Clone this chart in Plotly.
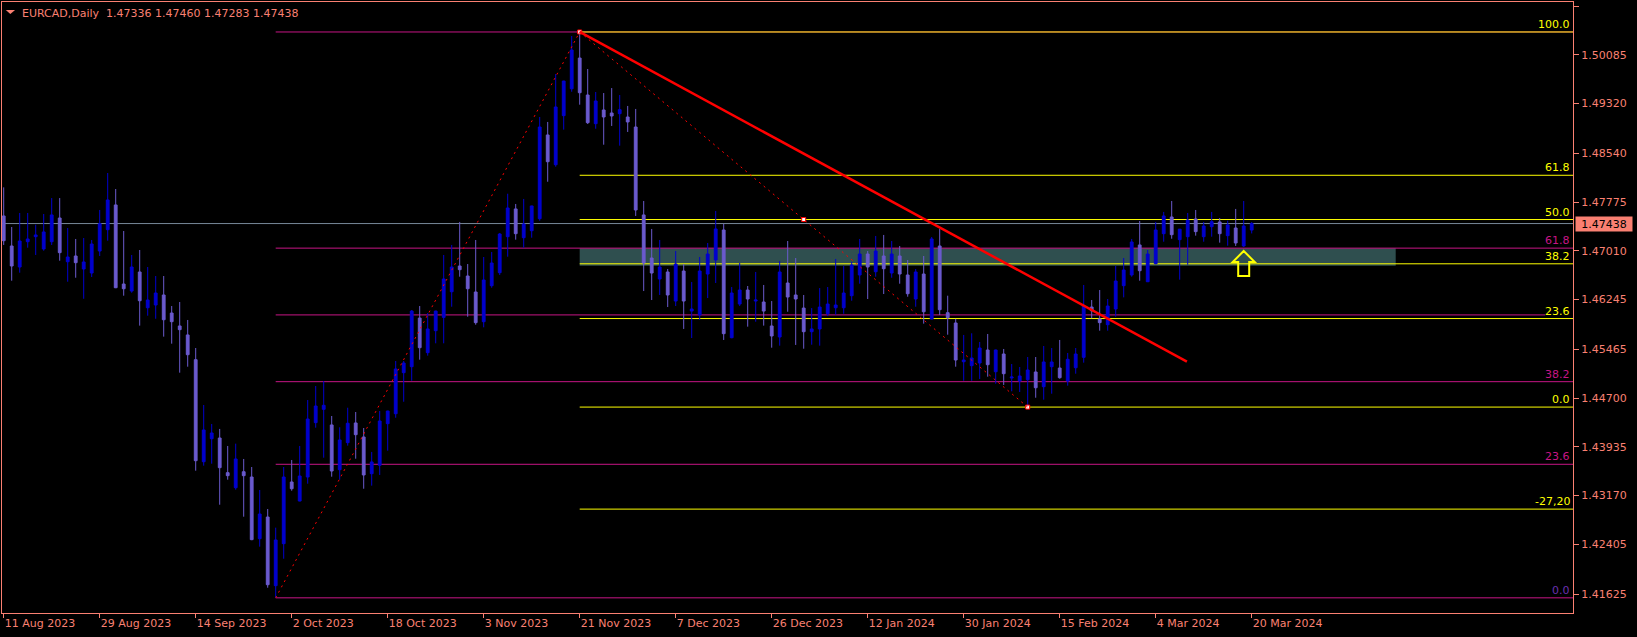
import plotly.graph_objects as go

# ---------------- data ----------------
OPEN = [1.47557, 1.47086, 1.46756, 1.47153, 1.47232, 1.47039, 1.47153, 1.47525, 1.46839, 1.46929,
        1.46725, 1.46662, 1.47007, 1.47342, 1.47730, 1.46489, 1.46379, 1.46678, 1.46117, 1.46160,
        1.46317, 1.46034, 1.45831, 1.45690, 1.45302, 1.43701, 1.44062, 1.44073, 1.43529, 1.43293,
        1.43544, 1.43461, 1.42493, 1.42833, 1.41756, 1.42415, 1.43383, 1.43084, 1.43461, 1.44314,
        1.44523, 1.44278, 1.43576, 1.44000, 1.44309, 1.44089, 1.43513, 1.43645, 1.44298, 1.44454,
        1.45098, 1.45192, 1.45955, 1.45412, 1.45757, 1.45966, 1.46368, 1.46772, 1.46615, 1.46364,
        1.45898, 1.46463, 1.46667, 1.47232, 1.47667, 1.47216, 1.47326, 1.47514, 1.48828, 1.48361,
        1.49131, 1.49553, 1.50035, 1.49455, 1.49005, 1.49220, 1.49173, 1.49162, 1.49110, 1.48953,
        1.47573, 1.46897, 1.46568, 1.46678, 1.46222, 1.46693, 1.46065, 1.46003, 1.46646, 1.46866,
        1.47337, 1.45647, 1.46175, 1.46395, 1.46222, 1.46207, 1.45831, 1.45658, 1.46505, 1.46317,
        1.46112, 1.45741, 1.45784, 1.46023, 1.46117, 1.46117, 1.46306, 1.46631, 1.46960, 1.46682,
        1.46929, 1.46662, 1.46929, 1.46631, 1.46254, 1.46646, 1.45940, 1.47086, 1.46039, 1.45878,
        1.45270, 1.45208, 1.45250, 1.45454, 1.45113, 1.45391, 1.45014, 1.44967, 1.44988, 1.45109,
        1.44878, 1.45192, 1.45171, 1.44967, 1.45176, 1.45339, 1.46128, 1.45941, 1.45851, 1.46097,
        1.46463, 1.46631, 1.47102, 1.46525, 1.46808, 1.47279, 1.47541, 1.47185, 1.47232, 1.47510,
        1.47232, 1.47389, 1.47463, 1.47248, 1.47368, 1.47086, 1.47336]
HIGH = [1.48006, 1.47384, 1.47604, 1.47604, 1.47420, 1.47588, 1.47838, 1.47838, 1.47368, 1.47196,
        1.47211, 1.47180, 1.47651, 1.48231, 1.47980, 1.47321, 1.46945, 1.47023, 1.46756, 1.46615,
        1.46615, 1.46144, 1.46207, 1.45925, 1.45485, 1.44591, 1.44293, 1.44215, 1.43948, 1.43984,
        1.43744, 1.43618, 1.43257, 1.42959, 1.42666, 1.43618, 1.43728, 1.43948, 1.44669, 1.44889,
        1.44967, 1.44418, 1.44241, 1.44548, 1.44481, 1.44230, 1.43854, 1.44496, 1.44500, 1.45281,
        1.45281, 1.46081, 1.46144, 1.46034, 1.46070, 1.46945, 1.47102, 1.47463, 1.46803, 1.47180,
        1.46913, 1.46992, 1.47290, 1.47906, 1.47745, 1.47824, 1.47718, 1.49110, 1.49032, 1.49784,
        1.49678, 1.50381, 1.50444, 1.49863, 1.49502, 1.49486, 1.49564, 1.49455, 1.49283, 1.49236,
        1.47792, 1.47353, 1.47180, 1.46725, 1.47007, 1.46803, 1.46521, 1.46913, 1.47133, 1.47635,
        1.47431, 1.46442, 1.46819, 1.46458, 1.46678, 1.46474, 1.46222, 1.46850, 1.47164, 1.46897,
        1.46317, 1.46112, 1.46426, 1.46442, 1.46882, 1.46772, 1.46835, 1.47196, 1.47007, 1.47243,
        1.47259, 1.47164, 1.47086, 1.46866, 1.46725, 1.46929, 1.47227, 1.47353, 1.46306, 1.45944,
        1.45690, 1.45716, 1.45580, 1.45705, 1.45460, 1.45470, 1.45234, 1.45187, 1.45344, 1.45344,
        1.45517, 1.45485, 1.45611, 1.45407, 1.45485, 1.46474, 1.46238, 1.46395, 1.46254, 1.46772,
        1.46897, 1.47196, 1.47478, 1.47023, 1.47463, 1.47620, 1.47792, 1.47353, 1.47604, 1.47651,
        1.47463, 1.47620, 1.47525, 1.47483, 1.47667, 1.47792, 1.47460]
LOW = [1.47102, 1.46541, 1.46667, 1.47059, 1.46945, 1.47012, 1.47102, 1.46855, 1.46525, 1.46588,
       1.46258, 1.46599, 1.46929, 1.47169, 1.46425, 1.46306, 1.46353, 1.45836, 1.45992, 1.45944,
       1.45663, 1.45553, 1.45098, 1.45192, 1.43560, 1.43639, 1.43670, 1.43026, 1.43419, 1.43262,
       1.42838, 1.42470, 1.42368, 1.41724, 1.41565, 1.42179, 1.43246, 1.43080, 1.43356, 1.44235,
       1.43764, 1.43466, 1.43419, 1.43953, 1.43748, 1.43277, 1.43325, 1.43493, 1.43874, 1.44391,
       1.44642, 1.44972, 1.45302, 1.45365, 1.45559, 1.45559, 1.46133, 1.46604, 1.45976, 1.45851,
       1.45810, 1.46431, 1.46631, 1.46918, 1.47185, 1.47059, 1.47216, 1.47483, 1.48094, 1.48330,
       1.48911, 1.49506, 1.49303, 1.49000, 1.48926, 1.48675, 1.48969, 1.48660, 1.48875, 1.47557,
       1.46379, 1.46238, 1.46317, 1.46128, 1.46144, 1.45784, 1.45642, 1.45925, 1.46269, 1.46505,
       1.45611, 1.45638, 1.46144, 1.45820, 1.45898, 1.45836, 1.45490, 1.45522, 1.46054, 1.45533,
       1.45474, 1.45537, 1.45522, 1.45987, 1.46007, 1.46023, 1.46227, 1.46494, 1.46254, 1.46604,
       1.46332, 1.46588, 1.46494, 1.46290, 1.46133, 1.45867, 1.45935, 1.46003, 1.45694, 1.45192,
       1.44972, 1.44972, 1.44999, 1.45035, 1.44925, 1.44905, 1.44806, 1.44795, 1.44558, 1.44705,
       1.44674, 1.44768, 1.45003, 1.44894, 1.45082, 1.45255, 1.45951, 1.45757, 1.45757, 1.45976,
       1.46280, 1.46604, 1.46541, 1.46520, 1.46800, 1.47153, 1.47200, 1.46557, 1.46792, 1.47248,
       1.47153, 1.47232, 1.47138, 1.47091, 1.47086, 1.47070, 1.47283]
CLOSE = [1.47169, 1.46772, 1.47164, 1.47196, 1.47259, 1.47306, 1.47573, 1.46981, 1.46913, 1.46824,
         1.46835, 1.47117, 1.47436, 1.47808, 1.46431, 1.46415, 1.46756, 1.46227, 1.46238, 1.46348,
         1.45929, 1.45898, 1.45773, 1.45380, 1.43717, 1.44199, 1.44152, 1.43607, 1.43482, 1.43744,
         1.43482, 1.42478, 1.42880, 1.41771, 1.42473, 1.43461, 1.43277, 1.43477, 1.44371, 1.44575,
         1.44586, 1.43555, 1.44042, 1.44304, 1.44125, 1.43493, 1.43697, 1.44340, 1.44496, 1.45156,
         1.45250, 1.46065, 1.45490, 1.45784, 1.46065, 1.46568, 1.46756, 1.46714, 1.46415, 1.45883,
         1.46552, 1.46819, 1.47274, 1.47682, 1.47279, 1.47431, 1.47714, 1.48953, 1.48408, 1.49267,
         1.49674, 1.50161, 1.49491, 1.49021, 1.49361, 1.49110, 1.49126, 1.49225, 1.49032, 1.47651,
         1.46819, 1.46662, 1.46756, 1.46317, 1.46803, 1.46222, 1.46097, 1.46693, 1.46960, 1.47353,
         1.45710, 1.46348, 1.46395, 1.46254, 1.46238, 1.46065, 1.45674, 1.46678, 1.46285, 1.46254,
         1.45741, 1.45784, 1.46128, 1.46175, 1.46160, 1.46348, 1.46788, 1.46960, 1.46756, 1.47007,
         1.46729, 1.46960, 1.46646, 1.46337, 1.46678, 1.46054, 1.47196, 1.46086, 1.45960, 1.45297,
         1.45297, 1.45328, 1.45485, 1.45223, 1.45454, 1.45082, 1.45030, 1.45046, 1.45140, 1.44862,
         1.45266, 1.45266, 1.45019, 1.45308, 1.45391, 1.46149, 1.46070, 1.45883, 1.46144, 1.46536,
         1.46709, 1.47149, 1.46698, 1.46960, 1.47337, 1.47557, 1.47263, 1.47350, 1.47494, 1.47311,
         1.47400, 1.47468, 1.47279, 1.47416, 1.47133, 1.47400, 1.47438]
BARS = list(range(len(OPEN)))

SYMBOL = "EURCAD,Daily"
DATE_TICK_BARS = list(range(0, 157, 12))
DATE_TICK_TEXT = ["11 Aug 2023", "29 Aug 2023", "14 Sep 2023", "2 Oct 2023", "18 Oct 2023",
                  "3 Nov 2023", "21 Nov 2023", "7 Dec 2023", "26 Dec 2023", "12 Jan 2024",
                  "30 Jan 2024", "15 Feb 2024", "4 Mar 2024", "20 Mar 2024"]
PRICE_TICKS = [1.50850, 1.50085, 1.49320, 1.48540, 1.47775, 1.47010, 1.46245,
               1.45465, 1.44700, 1.43935, 1.43170, 1.42405, 1.41625]

# Fibonacci tools (anchor bars) and levels
FIB_M_LOW_BAR, FIB_M_HIGH_BAR = 34, 72
FIB_M_LEVELS = [0.0, 23.6, 38.2, 50.0, 61.8, 100.0]
FIB_M_LABELS = ["0.0", "23.6", "38.2", "", "61.8", ""]
FIB_Y_HIGH_BAR, FIB_Y_LOW_BAR = 72, 128
FIB_Y_LEVELS = [100.0, 61.8, 50.0, 38.2, 23.6, 0.0, -27.2]
FIB_Y_LABELS = ["100.0", "61.8", "50.0", "38.2", "23.6", "0.0", "-27,20"]

# trend line & zone
TREND_X = [72, 147.9]
TREND_Y = [1.50444, 1.45270]
ZONE_X = [72, 174]
ZONE_BOTTOM = 1.46777
ARROW_BAR = 155

# ---------------- style ----------------
UP = "#0000CD"
DOWN = "#6A5ACD"
SALMON = "#FA8072"
YEL = "#FFFF00"
MAG = "#C71585"
FONT = "DejaVu Sans"
X_RANGE = [-0.2125, 196.1625]
Y_RANGE = [1.413271, 1.509143]

fig = go.Figure()
fig.add_trace(go.Candlestick(
    x=BARS, open=OPEN, high=HIGH, low=LOW, close=CLOSE,
    increasing=dict(line=dict(color=UP, width=1), fillcolor=UP),
    decreasing=dict(line=dict(color=DOWN, width=1), fillcolor=DOWN),
    whiskerwidth=0, hoverinfo="skip", showlegend=False))

shapes = []
annotations = []

m_lo = LOW[FIB_M_LOW_BAR]
m_hi = HIGH[FIB_M_HIGH_BAR]
def m_price(lv):
    return m_lo + lv / 100.0 * (m_hi - m_lo)
y_hi = HIGH[FIB_Y_HIGH_BAR]
y_lo = LOW[FIB_Y_LOW_BAR]
def y_price(lv):
    return y_lo + lv / 100.0 * (y_hi - y_lo)

# zone rectangle
shapes.append(dict(type="rect", xref="x", yref="y", x0=ZONE_X[0], x1=ZONE_X[1],
                   y0=ZONE_BOTTOM, y1=m_price(61.8), fillcolor="#2F4F4F",
                   line=dict(width=0), layer="below"))
# current price line
shapes.append(dict(type="line", xref="paper", yref="y", x0=0, x1=1,
                   y0=CLOSE[-1], y1=CLOSE[-1], line=dict(color="#778899", width=1), layer="below"))

# magenta fib
for lv, lab in zip(FIB_M_LEVELS, FIB_M_LABELS):
    p = m_price(lv)
    x1 = X_RANGE[1] if lv != 50.0 else 192.7
    shapes.append(dict(type="line", xref="x", yref="y", x0=FIB_M_LOW_BAR, x1=x1,
                       y0=p, y1=p, line=dict(color=MAG, width=1), layer="below"))
    if lab:
        annotations.append(dict(xref="paper", yref="y", x=1, y=p, xanchor="right",
                                yanchor="bottom", yshift=-1, xshift=-1, text=lab, showarrow=False,
                                font=dict(family=FONT, size=11,
                                          color="#6A30B0" if lv == 0 else MAG)))
# yellow fib
for lv, lab in zip(FIB_Y_LEVELS, FIB_Y_LABELS):
    p = y_price(lv)
    shapes.append(dict(type="line", xref="x", yref="y", x0=FIB_Y_HIGH_BAR, x1=X_RANGE[1],
                       y0=p, y1=p, line=dict(color=YEL, width=1), layer="below"))
    annotations.append(dict(xref="paper", yref="y", x=1, y=p, xanchor="right",
                            yanchor="bottom", yshift=-1, xshift=-1, text=lab, showarrow=False,
                            font=dict(family=FONT, size=11, color=YEL)))

# dotted fib diagonals
shapes.append(dict(type="line", xref="x", yref="y", x0=FIB_M_LOW_BAR, y0=m_lo,
                   x1=FIB_M_HIGH_BAR, y1=m_hi, line=dict(color="#FF0000", width=1, dash="2px,4px"),
                   layer="above"))
shapes.append(dict(type="line", xref="x", yref="y", x0=FIB_Y_HIGH_BAR, y0=y_hi,
                   x1=FIB_Y_LOW_BAR, y1=y_lo, line=dict(color="#FF0000", width=1, dash="2px,4px"),
                   layer="above"))
# trend line
shapes.append(dict(type="line", xref="x", yref="y", x0=TREND_X[0], y0=TREND_Y[0],
                   x1=TREND_X[1], y1=TREND_Y[1], line=dict(color="#FF0000", width=2.5),
                   layer="above"))
# yellow arrow under the bar
shapes.append(dict(type="path", xref="x", yref="y", xsizemode="pixel", ysizemode="pixel",
                   xanchor=ARROW_BAR, yanchor=LOW[ARROW_BAR],
                   path="M 0 -4 L 11 -15 L 5.5 -15 L 5.5 -29 L -5.5 -29 L -5.5 -15 L -11 -15 Z",
                   line=dict(color=YEL, width=2), fillcolor="rgba(0,0,0,0)", layer="above"))
# header triangle
shapes.append(dict(type="path", xref="paper", yref="paper",
                   path="M 0.0024 0.9869 L 0.0083 0.9869 L 0.0053 0.9804 Z",
                   fillcolor=SALMON, line=dict(width=0), layer="above"))

# anchor markers
fig.add_trace(go.Scatter(
    x=[FIB_Y_HIGH_BAR, (FIB_Y_HIGH_BAR + FIB_Y_LOW_BAR) / 2, FIB_Y_LOW_BAR],
    y=[y_hi, (y_hi + y_lo) / 2, y_lo], mode="markers",
    marker=dict(symbol="square", size=4, color="white", line=dict(color="#FF0000", width=1)),
    hoverinfo="skip", showlegend=False))

# header text
annotations.append(dict(xref="paper", yref="paper", x=0, y=1, xanchor="left", yanchor="top",
                        xshift=18, yshift=-3, showarrow=False,
                        text=f"{SYMBOL}\u00a0\u00a0{OPEN[-1]:.5f} {HIGH[-1]:.5f} {LOW[-1]:.5f} {CLOSE[-1]:.5f}",
                        font=dict(family=FONT, size=11, color=SALMON)))
# current price label
annotations.append(dict(xref="paper", yref="y", x=1, y=CLOSE[-1], xanchor="left", yanchor="middle",
                        xshift=2, showarrow=False, text=f"{CLOSE[-1]:.5f}", bgcolor=SALMON,
                        width=54, height=12, borderpad=1,
                        font=dict(family=FONT, size=11, color="#000000")))

fig.update_layout(
    width=1637, height=637,
    margin=dict(l=2, r=64, t=2, b=24, autoexpand=False),
    paper_bgcolor="#000000", plot_bgcolor="#000000",
    boxgap=0.5,
    shapes=shapes, annotations=annotations,
    showlegend=False,
    xaxis=dict(range=X_RANGE, showgrid=False, zeroline=False, showline=True, mirror=True,
               linecolor=SALMON, linewidth=1, ticks="outside", ticklen=4, tickcolor=SALMON,
               tickvals=DATE_TICK_BARS, ticktext=DATE_TICK_TEXT, ticklabelposition="outside right",
               tickfont=dict(family=FONT, size=11, color=SALMON), automargin=False,
               rangeslider=dict(visible=False), fixedrange=True),
    yaxis=dict(range=Y_RANGE, side="right", showgrid=False, zeroline=False, showline=True,
               mirror=True, linecolor=SALMON, linewidth=1, ticks="outside", ticklen=5,
               tickcolor=SALMON, tickvals=PRICE_TICKS, ticktext=[f"{v:.5f}" for v in PRICE_TICKS],
               tickfont=dict(family=FONT, size=11, color=SALMON), automargin=False,
               fixedrange=True),
)

fig.write_html("out.html", config={"displayModeBar": False},
               post_script="document.body.style.margin='0px';document.body.style.background='#000';")
